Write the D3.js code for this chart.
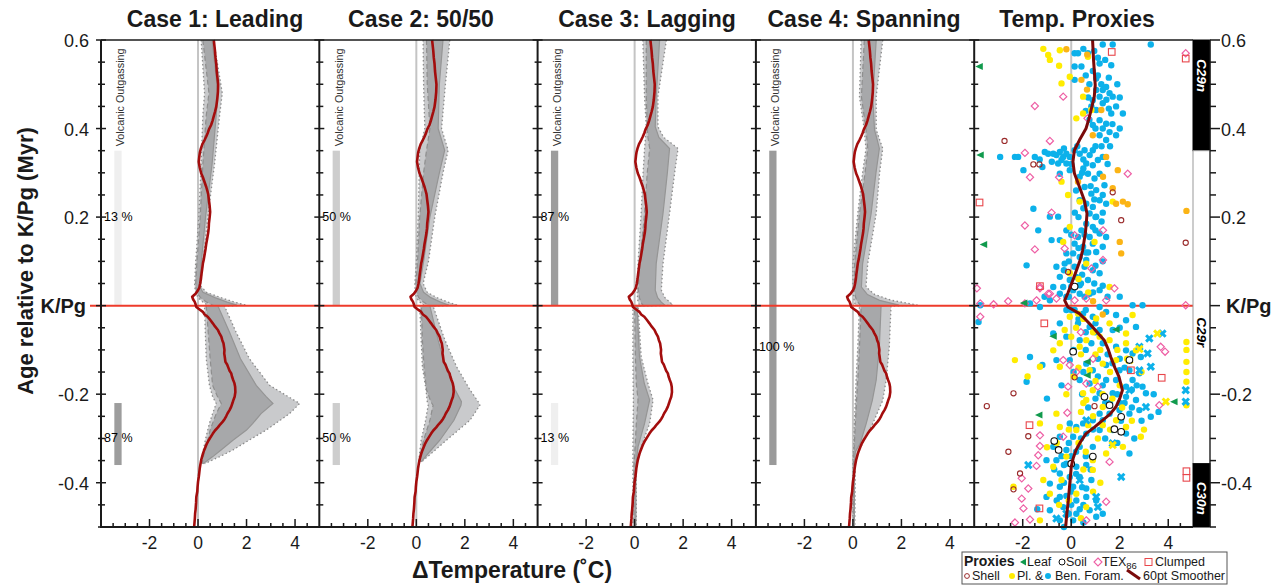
<!DOCTYPE html>
<html><head><meta charset="utf-8">
<script src="https://cdn.jsdelivr.net/npm/d3@7"></script>
<style>body{margin:0;background:#fff}svg{font-family:"Liberation Sans",Arial,Helvetica,sans-serif}</style>
</head><body><svg id="c" width="1280" height="585"></svg>
<script>
// ---------------- DATA ----------------
const panelTitles = ["Case 1: Leading", "Case 2: 50/50", "Case 3: Lagging", "Case 4: Spanning", "Temp. Proxies"];
const titleCenters = [215, 421, 647, 864, 1077];
const xTickLabels = [-2, 0, 2, 4];
const yTickLabels = [0.6, 0.4, 0.2, 0, -0.2, -0.4];
const xDomain = [-4, 5];
const yDomain = [0.6, -0.5];

// volcanic outgassing bars per case: [topAge, bottomAge, percent, labelAge]
const outgassing = [
  [[0.35, 0, 13, 0.2], [-0.22, -0.36, 87, -0.3]],
  [[0.35, 0, 50, 0.2], [-0.22, -0.36, 50, -0.3]],
  [[0.35, 0, 87, 0.2], [-0.22, -0.36, 13, -0.3]],
  [[0.35, -0.36, 100, -0.093]]
];

// model envelopes: [age, outerLow, innerLow, innerHigh, outerHigh]
const case1 = [
  [0.6,0.13,0.2,0.58,0.64],[0.48,0.27,0.45,0.82,1.0],[0.43,0.2,0.34,0.75,0.89],[0.32,0.13,0.2,0.58,0.68],
  [0.2,0.03,0.09,0.31,0.4],[0.095,-0.1,-0.05,0.13,0.2],[0.045,-0.14,-0.1,0.05,0.1],
  [0.03,-0.1,-0.05,0.2,0.35],[0.018,0.0,0.1,0.7,0.95],[0.008,0.2,0.35,1.2,1.5],[0.001,0.4,0.6,1.6,2.0],
  [-0.001,0.27,0.34,0.82,1.09],[-0.06,0.3,0.42,1.3,1.57],[-0.12,0.34,0.5,1.75,2.12],[-0.18,0.47,0.6,2.4,2.95],
  [-0.205,0.6,0.8,2.8,3.7],[-0.221,0.75,0.96,3.09,4.19],[-0.244,0.6,0.75,2.6,3.77],[-0.266,0.47,0.6,2.26,3.2],
  [-0.281,0.4,0.5,2.0,2.81],[-0.304,0.3,0.4,1.44,2.1],[-0.326,0.22,0.3,0.95,1.44],[-0.341,0.18,0.22,0.61,0.9],
  [-0.357,0.15,0.18,0.2,0.27]
];
const case2 = [
  [0.6,0.28,0.42,1.1,1.38],[0.5,0.3,0.45,0.95,1.2],[0.4,0.35,0.56,0.9,1.04],[0.351,0.14,0.42,1.17,1.31],
  [0.3,0.12,0.3,0.95,1.1],[0.2,0.08,0.14,0.56,0.76],[0.1,0.0,0.05,0.3,0.5],[0.05,-0.06,-0.02,0.15,0.28],
  [0.03,-0.05,0.0,0.3,0.45],[0.018,0.0,0.1,0.6,0.85],[0.008,0.15,0.3,1.0,1.3],[0.001,0.3,0.5,1.35,1.7],
  [-0.001,0.14,0.21,0.56,0.69],[-0.078,0.2,0.25,0.9,1.18],[-0.138,0.25,0.32,1.2,1.66],[-0.19,0.4,0.42,1.6,2.21],
  [-0.217,0.45,0.6,1.86,2.55],[-0.225,0.49,0.69,1.84,2.62],[-0.259,0.38,0.56,1.55,2.21],[-0.304,0.2,0.3,0.97,1.24],
  [-0.33,0.14,0.2,0.55,0.7],[-0.353,0.1,0.15,0.2,0.21]
];
const case3 = [
  [0.6,0.34,0.48,1.03,1.31],[0.472,0.41,0.48,0.89,0.96],[0.404,0.48,0.52,0.85,0.96],[0.38,0.45,0.55,1.0,1.2],
  [0.355,0.41,0.62,1.44,1.79],[0.3,0.35,0.52,1.35,1.65],[0.208,0.27,0.41,1.17,1.44],[0.095,0.14,0.21,0.89,1.17],
  [0.035,0.1,0.15,0.85,1.1],[0.018,0.12,0.2,0.95,1.25],[0.008,0.14,0.25,1.1,1.45],[0.001,0.2,0.35,1.25,1.58],
  [-0.001,-0.07,0.0,0.1,0.14],[-0.115,-0.07,0.03,0.2,0.27],[-0.176,-0.06,0.07,0.4,0.55],[-0.213,-0.05,0.14,0.62,0.76],
  [-0.266,-0.06,0.07,0.41,0.62],[-0.319,-0.07,0.02,0.14,0.27],[-0.364,-0.07,-0.03,0.05,0.07],[-0.5,-0.07,-0.03,0.05,0.07]
];
const case4 = [
  [0.6,0.34,0.47,0.96,1.23],[0.472,0.27,0.35,0.82,0.96],[0.397,0.47,0.54,0.89,0.96],[0.375,0.5,0.58,1.0,1.1],
  [0.355,0.54,0.61,1.09,1.23],[0.3,0.4,0.5,0.95,1.1],[0.208,0.2,0.27,0.75,0.96],[0.095,0.0,0.07,0.4,0.61],
  [0.042,0.0,0.05,0.35,0.54],[0.025,0.02,0.08,0.6,0.9],[0.012,0.05,0.15,1.1,1.6],[0.001,0.1,0.3,1.9,2.67],
  [-0.001,0.27,0.34,1.16,1.57],[-0.093,0.2,0.27,1.09,1.5],[-0.168,0.13,0.2,0.96,1.37],[-0.214,0.1,0.15,0.8,1.23],
  [-0.266,0.06,0.1,0.55,0.82],[-0.311,0.04,0.06,0.3,0.41],[-0.33,0.02,0.04,0.1,0.2],[-0.36,0.0,0.02,0.06,0.1],
  [-0.5,0.0,0.02,0.06,0.08]
];
const cases = [case1, case2, case3, case4];

// 60pt smoother [age, dT] as plotted in model panels and in proxy panel
const smoothModel = [
  [0.6,0.65],[0.585,0.68],[0.575,0.7],[0.56,0.72],[0.547,0.75],[0.53,0.77],[0.515,0.8],[0.5,0.83],[0.483,0.82],[0.465,0.79],[0.449,0.75],
  [0.438,0.7],[0.428,0.65],[0.418,0.6],[0.408,0.54],[0.398,0.45],[0.39,0.4],[0.382,0.34],[0.374,0.27],[0.365,0.18],
  [0.355,0.12],[0.347,0.08],[0.34,0.06],[0.325,0.03],[0.312,0.07],[0.299,0.13],[0.29,0.2],[0.282,0.25],[0.268,0.34],[0.26,0.38],[0.252,0.42],[0.238,0.45],
  [0.225,0.48],[0.212,0.5],[0.2,0.48],[0.186,0.45],[0.175,0.44],[0.165,0.42],[0.152,0.38],[0.14,0.34],[0.128,0.31],[0.118,0.28],[0.105,0.24],[0.095,0.2],[0.082,0.17],[0.07,0.14],[0.06,0.12],[0.05,0.09],
  [0.04,0.05],[0.035,0.0],[0.027,-0.1],[0.02,-0.24],[0.014,-0.2],[0.009,-0.14],[0.003,-0.1],[-0.003,-0.07],[-0.008,0.05],
  [-0.014,0.2],[-0.02,0.27],[-0.025,0.4],[-0.032,0.5],[-0.04,0.61],[-0.047,0.7],[-0.055,0.82],[-0.062,0.88],[-0.07,0.96],[-0.078,1.0],[-0.085,1.05],[-0.1,1.09],[-0.108,1.08],[-0.115,1.1],
  [-0.127,1.13],[-0.133,1.2],[-0.14,1.25],[-0.147,1.3],[-0.153,1.37],[-0.16,1.4],[-0.168,1.45],[-0.175,1.5],[-0.183,1.53],[-0.195,1.54],[-0.206,1.51],[-0.213,1.46],[-0.22,1.42],
  [-0.228,1.37],[-0.236,1.3],[-0.243,1.22],[-0.25,1.16],[-0.256,1.1],[-0.262,1.02],[-0.268,0.92],[-0.275,0.82],[-0.282,0.7],[-0.289,0.61],[-0.297,0.52],[-0.304,0.44],[-0.311,0.37],[-0.319,0.31],[-0.327,0.25],[-0.335,0.2],
  [-0.349,0.13],[-0.358,0.1],[-0.368,0.07],[-0.378,0.05],[-0.387,0.03],[-0.398,0.0],[-0.41,-0.02],[-0.42,-0.03],[-0.432,-0.07],[-0.445,-0.08],[-0.46,-0.1],[-0.47,-0.12],[-0.48,-0.13],[-0.5,-0.16]
];
const smoothProxy = [
  [0.6,0.88],[0.555,0.92],[0.498,0.99],[0.472,0.95],[0.442,0.82],[0.42,0.72],[0.4,0.61],[0.374,0.34],[0.351,0.13],
  [0.325,0.07],[0.299,0.13],[0.268,0.34],[0.238,0.54],[0.208,0.65],[0.185,0.62],[0.163,0.58],[0.125,0.47],[0.105,0.38],
  [0.088,0.27],[0.058,0.07],[0.028,-0.14],[0.012,-0.27],[-0.003,-0.14],[-0.018,0.34],[-0.033,0.62],[-0.048,0.88],
  [-0.078,1.36],[-0.098,1.52],[-0.116,1.63],[-0.14,1.8],[-0.161,1.97],[-0.191,2.11],[-0.21,2.0],[-0.229,1.84],
  [-0.245,1.6],[-0.259,1.29],[-0.275,0.95],[-0.289,0.61],[-0.308,0.38],[-0.326,0.2],[-0.345,0.08],[-0.364,0.0],
  [-0.409,-0.07],[-0.44,-0.12],[-0.469,-0.18],[-0.5,-0.23]
];

// proxy data [dT, age]
const foramBlue = [
  [0.14,0.57],[0.28,0.57],[0.69,0.57],[1.3,0.59],[1.71,0.59],[3.28,0.59],[0.14,0.54],[0.42,0.54],[1.17,0.547],[1.65,0.543],
  [0.14,0.51],[0.89,0.53],[1.03,0.513],[1.24,0.5],[1.3,0.487],[1.03,0.487],[1.44,0.494],[1.58,0.48],[1.71,0.472],[1.17,0.472],
  [0.89,0.464],[0.83,0.45],[1.3,0.457],[1.85,0.45],[2.13,0.434],[1.65,0.434],[1.03,0.442],[1.17,0.419],[1.44,0.411],[0.89,0.408],
  [1.3,0.4],[1.58,0.392],[1.85,0.385],[1.17,0.385],[1.44,0.374],[-2.93,0.336],[-2.32,0.336],[-2.19,0.336],[-1.5,0.336],[-1.09,0.347],
  [-0.95,0.343],[-0.74,0.343],[-0.61,0.34],[-0.47,0.347],[-0.33,0.336],[-0.2,0.343],[-0.06,0.336],[-0.4,0.329],[-0.54,0.321],[-0.2,0.321],
  [0.14,0.351],[0.35,0.343],[0.55,0.351],[0.76,0.34],[0.89,0.351],[0.62,0.321],[0.89,0.317],[1.1,0.329],[1.3,0.336],[0.69,0.298],
  [0.96,0.287],[1.17,0.298],[0.35,0.291],[-1.97,0.306],[-1.19,0.313],[-0.47,0.298],[-0.06,0.306],[0.55,0.268],[0.83,0.253],[1.03,0.261],
  [1.37,0.272],[0.62,0.23],[0.89,0.223],[1.17,0.238],[1.44,0.23],[0.35,0.238],[0.76,0.208],[1.03,0.201],[-1.56,0.219],[-0.88,0.201],
  [-0.54,0.201],[0.62,0.185],[0.89,0.178],[0.42,0.17],[0.28,0.155],[0.76,0.155],[1.17,0.163],[1.44,0.155],[-1.36,0.17],[-0.81,0.148],
  [-0.47,0.148],[0.14,0.14],[0.49,0.133],[0.89,0.14],[1.03,0.121],[1.3,0.133],[-0.2,0.118],[0.08,0.118],[0.35,0.11],[0.62,0.103],
  [-1.84,0.091],[-0.61,0.088],[-0.27,0.095],[0.14,0.088],[0.55,0.088],[0.89,0.08],[1.17,0.073],[-0.47,0.065],[-0.06,0.058],[0.21,0.065],
  [0.69,0.058],[-0.74,0.042],[-0.33,0.042],[0.08,0.035],[0.35,0.027],[-0.47,0.027],[-0.2,0.02],
  [0.0,0.043],[0.35,0.046],[0.76,0.027],[1.17,0.035],[-0.88,0.012],[-1.29,-0.003],[-1.7,0.005],[-3.75,0.001],[-3.82,-0.037],
  [2.53,0.001],[2.94,0.001],[0.14,-0.01],[0.49,-0.018],[0.89,-0.025],[1.17,-0.003],[1.44,-0.014],[1.85,-0.021],[2.26,-0.033],[2.67,-0.048],
  [0.28,-0.04],[0.76,-0.048],[1.17,-0.055],[1.71,-0.055],[-0.47,-0.04],[-0.74,-0.063],[-0.2,-0.07],[0.35,-0.078],[0.83,-0.085],[1.3,-0.085],
  [1.85,-0.093],[2.26,-0.101],[2.53,-0.108],[2.87,-0.116],[-1.7,-0.116],[-1.19,-0.134],[-0.61,-0.123],[-0.06,-0.123],[0.62,-0.131],[0.89,-0.146],
  [1.44,-0.134],[1.99,-0.146],[2.4,-0.146],[2.81,-0.153],[-1.84,-0.172],[0.35,-0.168],[0.76,-0.176],[1.44,-0.168],[1.85,-0.168],[2.26,-0.183],
  [2.53,-0.168],[2.94,-0.183],[3.08,-0.198],[1.17,-0.198],[1.71,-0.198],[2.26,-0.206],[2.67,-0.213],[2.81,-0.236],[2.4,-0.244],[1.99,-0.236],
  [1.58,-0.244],[1.17,-0.244],[3.28,-0.251],[1.3,-0.259],[0.89,-0.259],[0.49,-0.266],[0.21,-0.274],[-0.06,-0.266],[-0.47,-0.296],[0.08,-0.296],
  [0.62,-0.289],[1.17,-0.281],[1.71,-0.281],[2.26,-0.289],[2.4,-0.334],[-0.74,-0.319],[-0.2,-0.326],[0.35,-0.319],[0.89,-0.319],[-1.02,-0.349],
  [-0.61,-0.349],[-0.2,-0.357],[0.21,-0.364],[0.62,-0.36],[-0.47,-0.379],[-0.06,-0.387],[0.35,-0.387],[0.83,-0.394],[-0.88,-0.402],[-0.47,-0.409],
  [0.08,-0.409],[0.62,-0.413],[-1.02,-0.432],[-0.47,-0.432],[0.21,-0.44],[0.62,-0.432],[1.03,-0.44],[-0.33,-0.455],[-0.88,-0.462],[0.21,-0.47],
  [0.76,-0.462],[1.03,-0.477],[-0.47,-0.485],[0.08,-0.485],
  [1.0,0.2],[1.25,0.19],[0.5,0.31],[1.5,0.32],[0.3,0.2],[0.6,0.12],[1.0,0.09],[0.4,0.05],[0.9,0.03],[1.5,0.02],
  [0.6,-0.01],[1.0,-0.06],[1.5,-0.11],[2.0,-0.12],[1.1,-0.16],[1.6,-0.22],[2.05,-0.26],[0.7,-0.23],[0.2,-0.33],[0.0,-0.42],
  [-0.3,-0.36],[0.5,-0.45],[-0.1,-0.47],[2.7,-0.18],[2.2,-0.22],[1.9,-0.31],[0.45,-0.2],[0.1,-0.15],[-0.4,-0.18],[-1.0,-0.21],
  [0.5,0.58],[0.95,0.575],[1.1,0.56],[1.4,0.555],[0.6,0.52],[0.75,0.5],[1.1,0.52],[1.55,0.515],[1.9,0.5],[0.7,0.47],
  [1.45,0.465],[2.0,0.47],[0.6,0.44],[1.55,0.445],[0.75,0.42],[1.0,0.4],[1.7,0.41],[2.0,0.4],[1.25,0.36],[1.6,0.36],
  [0.25,0.36],[0.5,0.33],[0.0,0.32],[-0.8,0.325],[-1.3,0.33],[-0.3,0.355],[1.0,0.36],[0.45,0.3],[0.8,0.27],[0.2,0.26],
  [0.95,0.24],[1.3,0.25],[0.5,0.22],[1.3,0.21],[0.15,0.21],[0.55,0.16],[1.0,0.17],[0.0,0.16],[-0.2,0.17],[0.3,0.13],
  [0.7,0.12],[-0.1,0.1],[1.3,0.1],[0.45,0.07],[-0.3,0.08],[0.95,0.05],[-0.1,0.02],[0.55,0.02],[1.3,0.045],[-1.1,0.02],[2.0,0.02],
  [0.0,-0.01],[0.3,-0.03],[-0.2,-0.01],[0.6,-0.06],[1.0,-0.04],[2.0,-0.05],[0.1,-0.1],[0.6,-0.1],[1.1,-0.12],[1.7,-0.13],
  [2.2,-0.14],[0.5,-0.15],[1.3,-0.18],[1.9,-0.2],[2.5,-0.19],[1.0,-0.21],[1.4,-0.22],[2.0,-0.22],[2.5,-0.23],[0.9,-0.28],
  [1.4,-0.3],[0.4,-0.3],[-0.1,-0.31],[0.0,-0.34],[0.6,-0.34],[-0.4,-0.34],[0.2,-0.38],[-0.3,-0.4],[0.45,-0.41],[-0.2,-0.43],
  [0.35,-0.46],[-0.6,-0.44],[0.0,-0.45],[0.5,-0.49],[-0.3,-0.5],[1.3,-0.47],[-1.4,-0.46],[-0.7,-0.37],[3.4,-0.2],[3.6,-0.24],
  [2.9,-0.26],[2.6,-0.3],[0.8,-0.37]
];
const foramYellow = [
  [-1.15,0.58],[-0.95,0.566],[-0.88,0.555],[-0.47,0.577],[-0.5,0.542],[-0.06,0.517],[-0.4,0.502],[0.49,0.472],[0.21,0.423],[0.49,0.434],
  [0.83,0.442],[0.69,0.562],[-0.13,0.25],[0.35,0.235],[1.71,0.235],[-0.06,0.178],[-0.33,0.144],[0.96,0.144],[0.62,0.095],[-0.06,0.073],
  [1.58,0.042],[-0.4,0.28],
  [0.28,-0.018],[-0.06,-0.025],[-0.27,-0.055],[-0.47,-0.085],[-0.74,-0.101],[-2.32,-0.123],[-1.29,-0.138],[-0.47,-0.138],[0.35,-0.093],
  [0.62,-0.078],[1.17,-0.07],[1.58,-0.078],[2.26,-0.085],[2.53,-0.021],[1.85,-0.123],[1.3,-0.131],[0.76,-0.146],[0.49,-0.198],[0.89,-0.191],
  [0.62,-0.213],[1.3,-0.229],[1.85,-0.259],[2.26,-0.274],[2.87,-0.296],[2.13,-0.319],[-0.61,-0.244],[-1.29,-0.266],[-0.47,-0.274],[0.21,-0.281],
  [-0.2,-0.341],[0.89,-0.349],[1.44,-0.334],[-0.74,-0.364],[-0.4,-0.394],[-1.15,-0.394],[0.21,-0.425],[0.62,-0.455],[-1.29,-0.485],[-0.88,-0.425],
  [0.89,-0.371],[-2.38,-0.409],[2.67,-0.101],[1.58,-0.04],[2.26,-0.063],[1.03,-0.029],[0.2,-0.05],[0.5,-0.03],[1.0,-0.11],[0.1,-0.16],
  [0.7,-0.27],[1.1,-0.3],[0.4,-0.24],[1.6,-0.15],[2.0,-0.18],[-0.2,-0.2],[0.3,-0.31],[-0.6,-0.31],[0.6,-0.33],[1.2,-0.4],
  [0.3,0.06],[0.7,0.03],[0.0,-0.07],[0.4,-0.11],[0.9,-0.06],[1.2,-0.1],[1.9,-0.1],[2.3,-0.12],[0.3,-0.14],[1.0,-0.17],
  [1.3,-0.2],[1.7,-0.21],[0.5,-0.22],[2.1,-0.23],[2.5,-0.26],[0.9,-0.25],[1.3,-0.27],[-0.1,-0.28],[0.5,-0.37],[-0.5,-0.45],
  [0.9,-0.42],[-0.1,-0.44],[0.4,-0.48],[1.6,-0.28],[2.9,-0.15],[3.0,-0.28],[-1.8,-0.16],[-1.0,-0.32],
  [4.75,-0.082],[4.75,-0.1],[4.75,-0.127],[4.75,-0.15],[4.75,-0.172],[4.75,-0.225]
];
const foramOrange = [
  [-0.2,0.579],[0.66,0.567],[0.42,0.51],[0.65,0.488],[1.24,0.442],[0.89,0.385],[1.44,0.336],[1.92,0.306],[1.31,0.291],[1.71,0.265],
  [2.13,0.235],[2.33,0.229],[1.85,0.23],[2.0,0.144],[2.06,0.118],[4.75,0.214],[0.28,0.28],[0.9,0.01],[1.3,-0.02]
];
const foramBlueX = [
  [3.76,-0.063],[3.22,-0.074],[2.81,-0.093],[3.15,-0.108],[3.28,-0.138],[2.81,-0.146],[4.72,-0.191],[4.72,-0.217],[2.4,-0.191],[1.71,-0.311],
  [2.06,-0.387],[-1.77,-0.36],[-0.61,-0.481],[1.03,-0.432],[1.1,-0.455],[0.35,-0.394],[3.08,-0.229],[0.62,-0.259],[-0.2,-0.47]
];
const foramYellowX = [[3.55,-0.063],[2.81,-0.098],[3.9,-0.217],[1.71,-0.315],[2.4,-0.123]];
const tex86 = [
  [-0.33,0.472],[-1.5,0.451],[4.72,0.57],[-0.88,0.372],[-1.91,0.345],[-1.7,0.29],[-0.5,0.29],[2.33,0.298],[0.67,0.423],[-0.81,0.21],
  [-1.91,0.181],[-1.5,0.127],[-0.27,0.129],[0.14,0.159],[1.31,0.17],[1.31,0.103],[0.83,0.084],[-1.29,0.042],[1.78,0.039],[-0.88,0.027],
  [-3.89,0.039],[-1.29,0.039],[-0.95,0.027],[-1.43,0.012],[-1.91,0.005],[-3.75,0.005],[-3.75,-0.025],[-0.61,0.016],[0.14,0.012],[0.62,0.016],
  [1.44,0.012],[4.72,0.001],[-0.33,-0.123],[-0.06,-0.134],[0.21,-0.15],[-0.13,-0.183],[0.62,-0.176],[1.1,-0.183],[-0.16,-0.242],[-1.29,-0.293],
  [-1.29,-0.317],[-1.36,-0.338],[-1.43,-0.362],[-2.04,-0.39],[-1.77,-0.413],[-2.04,-0.436],[-1.97,-0.458],[-1.7,-0.483],[-2.32,-0.49],[3.69,-0.093],
  [3.87,-0.104],[3.63,-0.225],[1.58,-0.353],[1.44,-0.443],[0.62,-0.485],[-0.33,-0.296],[-3.2,0.003],[-2.6,0.01],[0.4,-0.06],[0.9,-0.12]
];
const shell = [
  [-2.75,0.372],[-1.56,0.319],[-1.31,0.319],[1.71,0.256],[2.06,0.193],[4.72,0.142],[-0.13,0.076],
  [-2.38,-0.198],[-3.48,-0.227],[-1.77,-0.295],[-2.59,-0.33],[-2.11,-0.379],[-2.38,-0.415],[0.14,-0.162],[0.96,-0.227]
];
const soil = [
  [0.08,-0.104],[2.4,-0.123],[1.37,-0.206],[1.58,-0.225],[2.06,-0.251],[1.78,-0.279],[2.06,-0.285],[-0.7,-0.306],[-0.52,-0.326],[0.89,-0.341],
  [0.0,-0.357],[0.14,0.043]
];
const clumped = [
  [1.67,0.573],[4.72,0.558],[-3.78,0.233],[-1.29,0.044],[-1.11,-0.04],[2.46,-0.146],[3.73,-0.163],[-1.72,-0.27],[-1.31,-0.458],[4.75,-0.374],[4.75,-0.389]
];
const leaf = [
  [-3.79,0.54],[-3.75,0.34],[-3.61,0.138],[-1.95,0.006],[-0.74,-0.069],[1.85,-0.054],[0.66,-0.127],[0.66,-0.157],[-1.33,-0.247],[4.24,-0.217]
];

// magnetochrons: [name, topAge, bottomAge, labelAge]
const chrons = [["C29n", 0.6, 0.35, 0.52], ["C29r", 0.35, -0.357, -0.06], ["C30n", -0.357, -0.5, -0.435]];

// ---------------- LAYOUT ----------------
const svg = d3.select("#c");
const yTop = 40, yBot = 527;
const panelLefts = [101, 319.3, 537.6, 755.9, 974.2];
const panelW = 218.3;
const y = d3.scaleLinear().domain(yDomain).range([yTop, yBot]);
const xs = panelLefts.map(l => d3.scaleLinear().domain(xDomain).range([l, l + panelW]));
const barX0 = 1193, barX1 = 1210;
const ink = "#1a1a1a";

const pctColor = p => p >= 100 ? "#9a9a9a" : p >= 80 ? "#9d9d9d" : p >= 40 ? "#cdcdcd" : "#efefef";

svg.selectAll("text.title").data(panelTitles).join("text")
  .attr("x", (d, i) => titleCenters[i]).attr("y", 27).attr("text-anchor", "middle")
  .attr("font-size", 23).attr("font-weight", "bold").attr("fill", ink).text(d => d);

cases.forEach((cd, i) => {
  const x = xs[i];
  const g = svg.append("g");
  outgassing[i].forEach(b => {
    g.append("rect").attr("x", x(-3.45)).attr("width", x(-3.15) - x(-3.45))
      .attr("y", y(b[0])).attr("height", y(b[1]) - y(b[0])).attr("fill", pctColor(b[2]));
  });
  g.append("text").attr("transform", `translate(${x(-3.45) + 10},${y(0.36)}) rotate(-90)`)
    .attr("font-size", 10.8).attr("fill", "#333").text("Volcanic Outgassing");
  outgassing[i].forEach(b => {
    g.append("text").attr("x", panelLefts[i] + 3).attr("y", y(b[3]) + 4)
      .attr("font-size", 12.5).attr("fill", "#000").text(b[2] + " %");
  });
  g.append("line").attr("x1", x(0)).attr("x2", x(0)).attr("y1", yTop).attr("y2", yBot)
    .attr("stroke", "#c4c4c4").attr("stroke-width", 2);
  const areaOuter = d3.area().y(d => y(d[0])).x0(d => x(d[1])).x1(d => x(d[4]));
  const areaInner = d3.area().y(d => y(d[0])).x0(d => x(d[2])).x1(d => x(d[3]));
  g.append("path").attr("d", areaOuter(cd)).attr("fill", "#c9cacc");
  g.append("path").attr("d", areaInner(cd)).attr("fill", "#a7a8aa");
  const ln = k => d3.line().y(d => y(d[0])).x(d => x(d[k]));
  g.append("path").attr("d", ln(1)(cd)).attr("fill", "none").attr("stroke", "#8c8c8c").attr("stroke-width", 1.3).attr("stroke-dasharray", "1.5,2.5");
  g.append("path").attr("d", ln(4)(cd)).attr("fill", "none").attr("stroke", "#8c8c8c").attr("stroke-width", 1.3).attr("stroke-dasharray", "1.5,2.5");
  g.append("path").attr("d", ln(2)(cd)).attr("fill", "none").attr("stroke", "#8e8e8e").attr("stroke-width", 1.2).attr("stroke-dasharray", "5,3");
  g.append("path").attr("d", ln(3)(cd)).attr("fill", "none").attr("stroke", "#959595").attr("stroke-width", 1.2);
});

{
  const x = xs[4];
  svg.append("line").attr("x1", x(0)).attr("x2", x(0)).attr("y1", yTop).attr("y2", yBot)
    .attr("stroke", "#c4c4c4").attr("stroke-width", 2);
}

svg.append("line").attr("x1", 90).attr("x2", barX0).attr("y1", y(0)).attr("y2", y(0))
  .attr("stroke", "#ee3b2b").attr("stroke-width", 2);

for (let i = 0; i < 4; i++) {
  const x = xs[i];
  svg.append("path").datum(smoothModel)
    .attr("d", d3.line().y(d => y(d[0])).x(d => x(d[1])))
    .attr("fill", "none").attr("stroke", "#a30d0d").attr("stroke-width", 2.6).attr("stroke-linejoin", "round");
}

{
  const x = xs[4];
  const g = svg.append("g");
  const px = d => x(d[0]), py = d => y(d[1]);
  g.selectAll(null).data(foramBlue).join("circle").attr("cx", px).attr("cy", py).attr("r", 3.2).attr("fill", "#0cb1ea");
  g.selectAll(null).data(foramYellow).join("circle").attr("cx", px).attr("cy", py).attr("r", 3.2).attr("fill", "#ffec00");
  g.selectAll(null).data(foramOrange).join("circle").attr("cx", px).attr("cy", py).attr("r", 3.2).attr("fill", "#fbb415");
  const xPath = d => { const cx = px(d), cy = py(d), s = 3.2; return `M${cx-s},${cy-s}L${cx+s},${cy+s}M${cx-s},${cy+s}L${cx+s},${cy-s}`; };
  g.selectAll(null).data(foramBlueX).join("path").attr("d", xPath).attr("stroke", "#0cb1ea").attr("stroke-width", 3);
  g.selectAll(null).data(foramYellowX).join("path").attr("d", xPath).attr("stroke", "#ffec00").attr("stroke-width", 3);
  g.selectAll(null).data(tex86).join("path")
    .attr("d", d => { const cx = px(d), cy = py(d), s = 3.6; return `M${cx},${cy-s}L${cx+s},${cy}L${cx},${cy+s}L${cx-s},${cy}Z`; })
    .attr("fill", "none").attr("stroke", "#ee5fa5").attr("stroke-width", 1.2);
  g.selectAll(null).data(shell).join("circle").attr("cx", px).attr("cy", py).attr("r", 2.6)
    .attr("fill", "none").attr("stroke", "#9a2b2b").attr("stroke-width", 1.1);
  g.selectAll(null).data(soil).join("circle").attr("cx", px).attr("cy", py).attr("r", 3.3)
    .attr("fill", "#fff").attr("stroke", "#111").attr("stroke-width", 1.1);
  g.selectAll(null).data(clumped).join("rect").attr("x", d => px(d) - 3.3).attr("y", d => py(d) - 3.3)
    .attr("width", 6.6).attr("height", 6.6).attr("fill", "none").attr("stroke", "#e8464b").attr("stroke-width", 1.1);
  g.selectAll(null).data(leaf).join("path")
    .attr("d", d => { const cx = px(d), cy = py(d); return `M${cx-4},${cy}L${cx+3.5},${cy-3.5}L${cx+3.5},${cy+3.5}Z`; })
    .attr("fill", "#119a4d");
  g.append("path").datum(smoothProxy)
    .attr("d", d3.line().y(d => y(d[0])).x(d => x(d[1])))
    .attr("fill", "none").attr("stroke", "#7a0a0a").attr("stroke-width", 3).attr("stroke-linejoin", "round");
}

chrons.forEach(c => {
  const black = c[0].endsWith("n");
  svg.append("rect").attr("x", barX0).attr("width", barX1 - barX0).attr("y", y(c[1])).attr("height", y(c[2]) - y(c[1]))
    .attr("fill", black ? "#000" : "#fff").attr("stroke", black ? "#000" : "#9a9a9a").attr("stroke-width", 1);
  svg.append("text").attr("transform", `translate(${(barX0 + barX1) / 2 - 5},${y(c[3])}) rotate(90)`)
    .attr("text-anchor", "middle").attr("font-size", 13.5).attr("font-weight", "bold").attr("font-style", "italic")
    .attr("fill", black ? "#fff" : "#000").text(c[0]);
});

const yTicks = d3.range(-10, 13).map(k => k * 0.05);
panelLefts.forEach((L, i) => {
  svg.append("line").attr("x1", L).attr("x2", L).attr("y1", yTop).attr("y2", yBot + 1).attr("stroke", ink).attr("stroke-width", 2);
  yTicks.forEach(t => {
    const major = Math.abs(t * 5 - Math.round(t * 5)) < 1e-6;
    svg.append("line").attr("x1", L - (major ? 5 : 3)).attr("x2", L + (major ? 5 : 4))
      .attr("y1", y(t)).attr("y2", y(t)).attr("stroke", ink).attr("stroke-width", 1.5);
  });
  const x = xs[i];
  d3.range(-7, 10).map(k => k * 0.5).forEach(t => {
    const major = xTickLabels.includes(t);
    svg.append("line").attr("x1", x(t)).attr("x2", x(t)).attr("y1", yBot).attr("y2", yBot - (major ? 8 : 4))
      .attr("stroke", ink).attr("stroke-width", 1.5);
  });
  svg.selectAll(null).data(xTickLabels).join("text").attr("x", d => x(d)).attr("y", 549)
    .attr("text-anchor", "middle").attr("font-size", 17.5).attr("fill", ink).text(d => d < 0 ? "-" + Math.abs(d) : d);
});
svg.append("line").attr("x1", 101).attr("x2", barX0).attr("y1", yTop).attr("y2", yTop).attr("stroke", ink).attr("stroke-width", 1.5);
svg.append("line").attr("x1", 100).attr("x2", barX0).attr("y1", yBot).attr("y2", yBot).attr("stroke", ink).attr("stroke-width", 2);
svg.append("line").attr("x1", barX1).attr("x2", barX1).attr("y1", yTop).attr("y2", yBot).attr("stroke", ink).attr("stroke-width", 1.2);
yTicks.forEach(t => {
  const major = Math.abs(t * 5 - Math.round(t * 5)) < 1e-6;
  svg.append("line").attr("x1", barX1).attr("x2", barX1 + (major ? 10 : 6))
    .attr("y1", y(t)).attr("y2", y(t)).attr("stroke", ink).attr("stroke-width", 1.5);
});
const fmtY = d => d === 0 ? "K/Pg" : (d < 0 ? "-" : "") + Math.abs(d).toFixed(1);
svg.selectAll(null).data(yTickLabels).join("text")
  .attr("x", d => d === 0 ? 86 : 89).attr("y", d => y(d) + 7).attr("text-anchor", "end")
  .attr("font-size", d => d === 0 ? 20 : 18).attr("font-weight", d => d === 0 ? "bold" : "normal")
  .attr("fill", ink).text(fmtY);
svg.selectAll(null).data(yTickLabels).join("text")
  .attr("x", d => d === 0 ? 1226 : 1221).attr("y", d => y(d) + 7).attr("text-anchor", "start")
  .attr("font-size", d => d === 0 ? 20 : 18).attr("font-weight", d => d === 0 ? "bold" : "normal")
  .attr("fill", ink).text(fmtY);

svg.append("text").attr("transform", `translate(33,261) rotate(-90)`).attr("text-anchor", "middle")
  .attr("font-size", 22).attr("font-weight", "bold").attr("fill", ink).text("Age relative to K/Pg (Myr)");
svg.append("text").attr("x", 512).attr("y", 578).attr("text-anchor", "middle")
  .attr("font-size", 23).attr("font-weight", "bold").attr("fill", ink).text("ΔTemperature (˚C)");

{
  const g = svg.append("g");
  g.append("rect").attr("x", 962).attr("y", 552).attr("width", 265).attr("height", 32).attr("fill", "#fff").attr("stroke", "#555").attr("stroke-width", 1);
  const fs = 12.5, r1 = 566, r2 = 580;
  g.append("text").attr("x", 964).attr("y", r1).attr("font-size", 14).attr("font-weight", "bold").attr("fill", ink).text("Proxies");
  g.append("path").attr("d", `M1020,${r1-4}L1026,${r1-7.5}L1026,${r1-0.5}Z`).attr("fill", "#119a4d");
  g.append("text").attr("x", 1027).attr("y", r1).attr("font-size", fs).attr("fill", ink).text("Leaf");
  g.append("circle").attr("cx", 1062).attr("cy", r1 - 4).attr("r", 3).attr("fill", "none").attr("stroke", "#111");
  g.append("text").attr("x", 1066).attr("y", r1).attr("font-size", fs).attr("fill", ink).text("Soil");
  g.append("path").attr("d", `M1098,${r1-8}L1102,${r1-4}L1098,${r1}L1094,${r1-4}Z`).attr("fill", "none").attr("stroke", "#ee5fa5").attr("stroke-width", 1.1);
  const t = g.append("text").attr("x", 1102).attr("y", r1).attr("font-size", fs).attr("fill", ink);
  t.append("tspan").text("TEX");
  t.append("tspan").attr("dy", 3).attr("font-size", 9.5).text("86");
  g.append("rect").attr("x", 1145).attr("y", r1 - 7.5).attr("width", 7).attr("height", 7).attr("fill", "none").attr("stroke", "#e8464b");
  g.append("text").attr("x", 1155).attr("y", r1).attr("font-size", fs).attr("fill", ink).text("Clumped");
  g.append("circle").attr("cx", 967).attr("cy", r2 - 4).attr("r", 2.4).attr("fill", "none").attr("stroke", "#9a2b2b");
  g.append("text").attr("x", 972).attr("y", r2).attr("font-size", fs).attr("fill", ink).text("Shell");
  g.append("circle").attr("cx", 1012).attr("cy", r2 - 4).attr("r", 3).attr("fill", "#ffec00");
  g.append("text").attr("x", 1017).attr("y", r2).attr("font-size", fs).attr("fill", ink).text("Pl. &");
  g.append("circle").attr("cx", 1048).attr("cy", r2 - 4).attr("r", 3).attr("fill", "#0cb1ea");
  g.append("text").attr("x", 1055).attr("y", r2).attr("font-size", fs).attr("fill", ink).text("Ben. Foram.");
  g.append("line").attr("x1", 1127).attr("y1", r2 - 10).attr("x2", 1140).attr("y2", r2 - 1).attr("stroke", "#7a0a0a").attr("stroke-width", 3);
  g.append("text").attr("x", 1143).attr("y", r2).attr("font-size", fs).attr("fill", ink).text("60pt Smoother");
}
</script></body></html>
